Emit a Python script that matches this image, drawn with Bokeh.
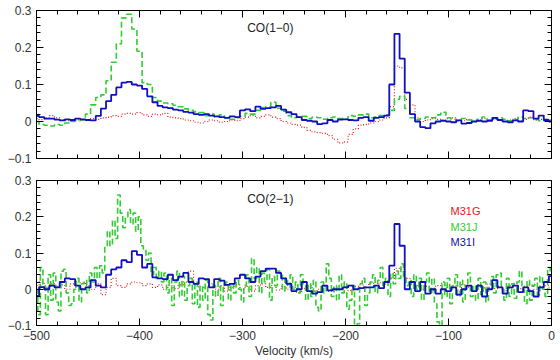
from bokeh.plotting import figure
from bokeh.layouts import column
from bokeh.models import (LinearAxis, SingleIntervalTicker, FixedTicker, CustomJSTickFormatter,
                          CustomLabelingPolicy, Range1d, Label)
from bokeh.embed import file_html
from bokeh.resources import INLINE

# ---------------- data ----------------
# channel centres (km/s)
vel5 = list(range(-500, 1, 5))            # 5 km/s channels
vel25 = [v / 2 for v in range(-1000, 1, 5)]  # 2.5 km/s channels

# CO(1-0), 5 km/s channels from -500 to 0
m31i_co10 = [
    0.015, 0.012, 0.008, 0.008, 0.005, 0.003, 0.006, 0.004, 0.008, 0.006,
    0.004, 0.003, 0.015, 0.035, 0.055, 0.072, 0.092, 0.105, 0.107, 0.100,
    0.097, 0.088, 0.068, 0.052, 0.042, 0.038, 0.036, 0.032, 0.030, 0.026,
    0.024, 0.020, 0.018, 0.020, 0.016, 0.014, 0.012, 0.010, 0.014, 0.012,
    0.030, 0.033, 0.028, 0.040, 0.034, 0.036, 0.038, 0.042, 0.032, 0.025,
    0.020, 0.012, 0.004, 0.002, 0.000, -0.007, -0.005, 0.004, 0.000, 0.005,
    0.006, 0.004, 0.003, 0.010, 0.012, 0.002, 0.010, 0.012, 0.016, 0.100,
    0.237, 0.170, 0.078, 0.020, 0.000, -0.015, -0.018, -0.005, 0.000, 0.002,
    0.000, -0.002, 0.003, -0.006, -0.004, 0.000, 0.002, 0.000, 0.002, 0.010,
    0.004, 0.000, -0.002, 0.003, 0.000, 0.030, 0.028, 0.008, 0.016, 0.004,
    0.000]
m31j_co10 = [
    0.000, -0.008, -0.010, -0.012, -0.008, -0.010, -0.004, 0.000, 0.002, 0.004,
    0.020, 0.045, 0.065, 0.072, 0.110, 0.160, 0.210, 0.280, 0.290, 0.250,
    0.190, 0.105, 0.100, 0.065, 0.055, 0.050, 0.048, 0.044, 0.040, 0.034,
    0.030, 0.026, 0.024, 0.016, 0.020, 0.012, 0.018, 0.010, 0.006, 0.010,
    0.014, 0.022, 0.020, 0.030, 0.038, 0.040, 0.052, 0.036, 0.028, 0.016,
    0.010, 0.012, 0.014, 0.008, 0.012, 0.010, 0.006, 0.010, 0.012, 0.008,
    0.006, 0.016, 0.014, 0.018, 0.020, 0.010, 0.012, 0.016, 0.018, 0.030,
    0.060, 0.068, 0.035, 0.010, 0.005, 0.008, 0.012, 0.010, 0.018, 0.025,
    0.010, 0.006, 0.002, 0.008, 0.004, 0.000, 0.006, 0.012, 0.004, 0.008,
    0.010, 0.006, 0.002, 0.005, 0.012, 0.008, 0.010, 0.005, 0.002, 0.006,
    0.004]
m31g_co10 = [
    0.008, 0.005, 0.010, 0.016, 0.010, 0.004, 0.002, 0.000, 0.004, 0.006,
    0.004, 0.008, 0.006, 0.010, 0.012, 0.016, 0.014, 0.020, 0.022, 0.020,
    0.024, 0.018, 0.014, 0.020, 0.018, 0.022, 0.012, 0.010, 0.008, 0.004,
    0.002, -0.002, -0.004, 0.000, 0.004, 0.002, -0.002, 0.000, 0.004, 0.002,
    0.008, 0.012, 0.016, 0.010, 0.014, 0.018, 0.012, 0.008, 0.000, -0.004,
    -0.008, -0.010, -0.016, -0.024, -0.028, -0.030, -0.032, -0.038, -0.048, -0.058,
    -0.055, -0.035, -0.020, -0.010, -0.008, -0.004, 0.000, 0.004, 0.010, 0.040,
    0.150, 0.145, 0.060, 0.045, 0.010, 0.000, 0.004, 0.008, 0.006, 0.004,
    0.008, 0.010, 0.004, 0.002, 0.006, 0.000, 0.004, 0.008, 0.002, 0.006,
    0.004, 0.000, 0.004, 0.008, 0.002, 0.006, 0.012, 0.004, 0.006, 0.002,
    0.004]

# CO(2-1)
m31i_co21 = [
    -0.018, 0.006, 0.000, 0.010, 0.005, 0.020, 0.030, 0.028, 0.010, 0.000,
    0.005, 0.025, 0.010, 0.005, 0.040, 0.055, 0.060, 0.080, 0.075, 0.105,
    0.095, 0.060, 0.070, 0.033, 0.030, 0.028, 0.040, 0.025, 0.035, 0.045,
    0.020, 0.015, 0.030, 0.028, 0.005, 0.028, 0.024, 0.012, 0.015, 0.030,
    0.040, 0.030, 0.020, 0.035, 0.050, 0.057, 0.057, 0.045, 0.030, 0.015,
    -0.005, 0.000, 0.020, -0.005, -0.012, -0.008, 0.010, -0.003, 0.000, 0.000,
    0.005, 0.010, 0.000, 0.003, 0.005, 0.005, 0.010, 0.003, 0.020, 0.065,
    0.180, 0.120, 0.000, 0.020, -0.005, 0.020, -0.012, 0.000, -0.012, 0.000,
    -0.005, 0.005, -0.015, 0.000, 0.010, -0.005, 0.010, -0.020, 0.000, 0.025,
    0.005, -0.012, 0.005, 0.010, -0.008, 0.005, -0.005, -0.020, 0.005, 0.020,
    0.036]
m31g_co21 = [
    0.010, 0.020, 0.005, 0.015, 0.008, 0.012, 0.000, 0.015, 0.005, 0.018,
    0.010, 0.000, 0.015, -0.015, 0.005, 0.030, 0.010, 0.005, 0.015, 0.020,
    0.018, 0.010, 0.015, 0.005, 0.012, 0.000, 0.010, 0.002, 0.012, 0.020,
    0.050, 0.015, 0.000, 0.008, 0.015, 0.000, 0.010, -0.005, 0.005, 0.012,
    0.000, 0.008, -0.005, 0.010, 0.015, 0.005, 0.010, -0.002, 0.008, 0.000,
    0.005, -0.008, 0.002, 0.010, -0.005, 0.000, 0.008, -0.006, 0.004, 0.000,
    0.006, -0.004, 0.008, 0.012, 0.004, 0.016, 0.010, 0.018, 0.014, 0.030,
    0.058, 0.055, 0.030, 0.020, 0.010, 0.000, 0.008, -0.004, 0.010, 0.016,
    0.004, 0.010, -0.002, 0.012, 0.006, 0.000, 0.010, 0.004, 0.014, 0.002,
    0.008, -0.004, 0.010, 0.016, 0.002, 0.008, 0.012, 0.000, 0.006, 0.010,
    0.004]
# 2.5 km/s channels
m31j_co21 = [
    0.000, -0.070, 0.060, 0.010, -0.070, 0.040, -0.030, 0.045, -0.035, -0.060,
    0.050, 0.055, -0.010, -0.045, -0.040, 0.000, 0.030, -0.035, 0.015, 0.025,
    -0.010, 0.045, 0.020, 0.060, 0.030, 0.065, 0.045, 0.120, 0.160, 0.120,
    0.190, 0.140, 0.260, 0.210, 0.170, 0.200, 0.220, 0.180, 0.210, 0.160,
    0.200, 0.120, 0.110, 0.080, 0.100, 0.040, 0.060, 0.030, 0.050, 0.020,
    0.045, -0.010, 0.030, -0.045, 0.020, 0.050, -0.020, 0.035, -0.030, 0.010,
    0.030, -0.040, 0.020, -0.050, 0.010, -0.030, 0.025, -0.070, -0.085, 0.010,
    -0.020, 0.030, -0.045, 0.005, 0.020, -0.030, 0.015, -0.010, 0.025, 0.000,
    -0.035, 0.010, 0.040, -0.020, 0.085, 0.030, 0.060, -0.010, 0.045, 0.020,
    0.055, -0.030, 0.035, 0.010, 0.050, 0.040, -0.005, 0.030, 0.005, 0.040,
    0.000, 0.020, -0.010, 0.040, 0.010, -0.030, 0.015, -0.020, 0.025, -0.050,
    -0.060, 0.020, -0.010, 0.070, 0.030, -0.020, 0.010, -0.030, 0.040, -0.010,
    0.020, -0.055, -0.030, 0.010, -0.100, -0.095, 0.015, 0.030, -0.045, -0.010,
    0.020, 0.040, -0.010, 0.025, 0.060, 0.010, 0.030, -0.020, 0.045, 0.015,
    0.050, 0.030, 0.070, 0.035, 0.010, 0.025, -0.020, 0.040, 0.000, 0.030,
    -0.030, 0.020, 0.045, -0.010, 0.030, -0.040, -0.090, -0.100, 0.020, -0.020,
    0.030, -0.040, 0.010, 0.040, -0.020, 0.025, -0.035, 0.015, 0.045, -0.020,
    0.010, -0.030, 0.030, -0.015, 0.020, -0.035, 0.005, 0.035, -0.010, 0.040,
    0.045, 0.000, -0.030, 0.030, -0.020, 0.015, -0.025, 0.020, 0.050, 0.000,
    -0.040, 0.025, -0.030, 0.010, 0.030, -0.015, 0.035, 0.000, -0.020, 0.060,
    0.040]

series_names = ["M31G", "M31J", "M31I"]
panel_titles = ["CO(1\u22120)", "CO(2\u22121)"]
x_label = "Velocity (km/s)"
y_ticks = [-0.1, 0.0, 0.1, 0.2, 0.3]
y_minor = [round(-0.1 + 0.02 * i, 2) for i in range(21)]

RED = "#e01818"
GREEN = "#33cc33"
BLUE = "#1010c0"
FONT = "Liberation Sans"
TXT = "#333333"

x_fmt = CustomJSTickFormatter(code="""
    if (Math.abs(tick) < 1e-9) return '0';
    return (tick < 0 ? '\\u2212' : '') + Math.abs(tick).toFixed(0);
""")
y_fmt = CustomJSTickFormatter(code="""
    if (Math.abs(tick) < 1e-9) return '0';
    return (tick < 0 ? '\\u2212' : '') + Math.abs(tick).toFixed(1);
""")


def add_axis(p, side, labels, formatter=None, label_text=None):
    if side in ("below", "above"):
        ticker = SingleIntervalTicker(interval=100, num_minor_ticks=5)
    else:
        ticker = FixedTicker(ticks=y_ticks, minor_ticks=y_minor)
    ax = LinearAxis(ticker=ticker)
    ax.major_tick_in = 7
    ax.major_tick_out = 0
    ax.minor_tick_in = 4
    ax.minor_tick_out = 0
    ax.axis_line_color = "black"
    ax.major_tick_line_color = "black"
    ax.minor_tick_line_color = "black"
    if labels:
        ax.formatter = formatter
        ax.major_label_text_font = FONT
        ax.major_label_text_font_size = "12px"
        ax.major_label_text_color = TXT
        ax.major_label_standoff = 5
    else:
        ax.major_label_text_font_size = "0px"
        ax.major_label_standoff = 0
        ax.major_label_policy = CustomLabelingPolicy(code="return []")
    if label_text:
        ax.axis_label = label_text
        ax.axis_label_text_font = FONT
        ax.axis_label_text_font_size = "12px"
        ax.axis_label_text_font_style = "normal"
        ax.axis_label_text_color = TXT
        ax.axis_label_standoff = 1
    p.add_layout(ax, side)


def make_panel(height, top, bottom, show_x):
    p = figure(width=560, height=height, output_backend="svg", toolbar_location=None,
               x_range=Range1d(-500, 0), y_range=Range1d(-0.1, 0.3),
               x_axis_location=None, y_axis_location=None,
               min_border_left=36, min_border_right=9,
               min_border_top=top, min_border_bottom=bottom)
    p.grid.visible = False
    p.outline_line_color = "black"
    p.background_fill_color = "white"
    p.border_fill_color = "white"
    add_axis(p, "left", True, y_fmt)
    add_axis(p, "right", False)
    add_axis(p, "above", False)
    if show_x:
        add_axis(p, "below", True, x_fmt, x_label)
    else:
        add_axis(p, "below", False)
    return p


p1 = make_panel(168, 10, 10, False)
p1.step(vel5, m31g_co10, mode="center", line_color=RED, line_width=1.2, line_dash="1 2")
p1.step(vel5, m31j_co10, mode="center", line_color=GREEN, line_width=1.6, line_dash="6 3")
p1.step(vel5, m31i_co10, mode="center", line_color=BLUE, line_width=1.8)
p1.add_layout(Label(x=-273, y=0.253, text=panel_titles[0], text_align="center",
                    text_baseline="middle", text_font=FONT, text_font_size="12px",
                    text_color="#222222"))

p2 = make_panel(192, 12, 33, True)
p2.step(vel5, m31g_co21, mode="center", line_color=RED, line_width=1.2, line_dash="1 2")
p2.step(vel25, m31j_co21, mode="center", line_color=GREEN, line_width=1.6, line_dash="6 3")
p2.step(vel5, m31i_co21, mode="center", line_color=BLUE, line_width=1.8)
p2.add_layout(Label(x=-273, y=0.25, text=panel_titles[1], text_align="center",
                    text_baseline="middle", text_font=FONT, text_font_size="12px",
                    text_color="#222222"))
for name, col, yy in zip(series_names, [RED, GREEN, BLUE], [0.215, 0.172, 0.130]):
    p2.add_layout(Label(x=-98, y=yy, text=name, text_align="left", text_baseline="middle",
                        text_font=FONT, text_font_size="11px", text_color=col))

layout = column(p1, p2, spacing=0)
open("out.html", "w").write(file_html(layout, INLINE))
